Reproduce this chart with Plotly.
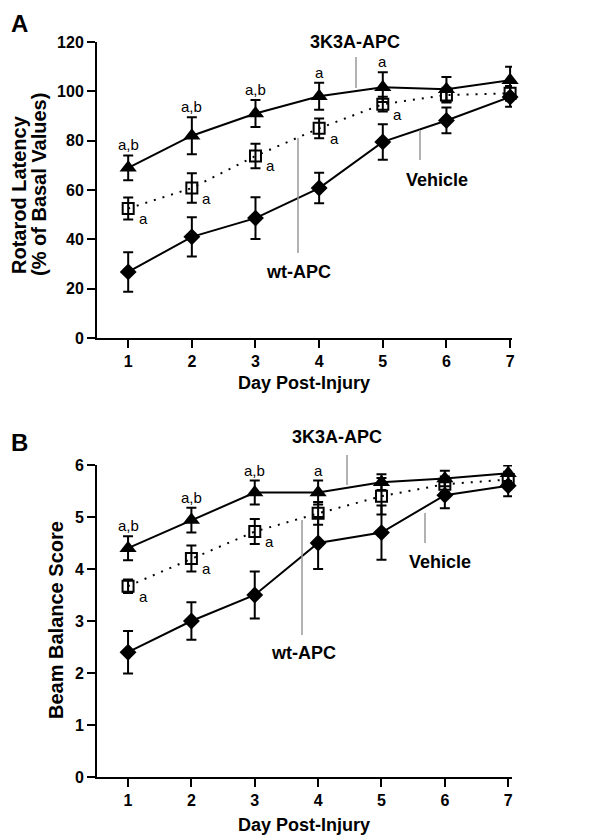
import plotly.graph_objects as go

days = [1, 2, 3, 4, 5, 6, 7]

# Panel A: Rotarod latency (% of basal values)
a_3k3a = [69, 82, 91, 98, 101.7, 100.8, 104.5]
a_3k3a_err = [5, 7.5, 5.5, 5.5, 6, 5, 5.5]
a_wt = [52.5, 60.8, 73.8, 85, 94.8, 98.5, 99.2]
a_wt_err = [4.5, 6, 5, 4, 3, 3, 3]
a_veh = [26.8, 41, 48.6, 60.8, 79.5, 88.2, 97.7]
a_veh_err = [8, 8, 8.5, 6.2, 7.2, 5.2, 4]

# Panel B: Beam balance score
b_3k3a = [4.4, 4.94, 5.47, 5.47, 5.67, 5.74, 5.84]
b_3k3a_err = [0.23, 0.24, 0.23, 0.23, 0.15, 0.15, 0.15]
b_wt = [3.67, 4.2, 4.72, 5.07, 5.4, 5.63, 5.72]
b_wt_err = [0.13, 0.25, 0.24, 0.22, 0.35, 0.15, 0.15]
b_veh = [2.4, 3.0, 3.5, 4.5, 4.7, 5.42, 5.6]
b_veh_err = [0.41, 0.36, 0.45, 0.5, 0.52, 0.25, 0.2]

a_top_labels = ["a,b", "a,b", "a,b", "a", "a", "", ""]
a_wt_labels = ["a", "a", "a", "a", "a", "", ""]
b_top_labels = ["a,b", "a,b", "a,b", "a", "", "", ""]
b_wt_labels = ["a", "a", "a", "", "", "", ""]

# page body has an 8px margin; the figure fills the rest of the 600x839 window
OFF = 8
W, H = 600 - OFF, 839 - OFF
FONT = "Liberation Sans, Arial, Helvetica, sans-serif"

def px(x):
    return (x - OFF) / W

def py(y):
    return 1 - (y - OFF) / H

fig = go.Figure()

def add_panel(xa, ya, s3, e3, sw, ew, sv, ev):
    common = dict(xaxis=xa, yaxis=ya, showlegend=False, cliponaxis=False)
    fig.add_trace(go.Scatter(x=days, y=sv, mode="lines+markers",
                             line=dict(color="black", width=2),
                             marker=dict(symbol="diamond", size=13, color="black"),
                             error_y=dict(type="data", array=ev, color="black",
                                          thickness=2, width=5), **common))
    fig.add_trace(go.Scatter(x=days, y=sw, mode="lines+markers",
                             line=dict(color="black", width=2, dash="2px,7px"),
                             marker=dict(symbol="square-open", size=11, color="black",
                                         line=dict(width=2)),
                             error_y=dict(type="data", array=ew, color="black",
                                          thickness=2, width=5), **common))
    fig.add_trace(go.Scatter(x=days, y=s3, mode="lines+markers",
                             line=dict(color="black", width=2),
                             marker=dict(symbol="triangle-up", size=15, color="black"),
                             error_y=dict(type="data", array=e3, color="black",
                                          thickness=2, width=5), **common))

add_panel("x", "y", a_3k3a, a_3k3a_err, a_wt, a_wt_err, a_veh, a_veh_err)
add_panel("x2", "y2", b_3k3a, b_3k3a_err, b_wt, b_wt_err, b_veh, b_veh_err)

axis_common = dict(showline=True, linecolor="black", linewidth=2, ticks="outside",
                   tickwidth=2, ticklen=8, tickcolor="black", showgrid=False,
                   zeroline=False, automargin=False,
                   tickfont=dict(family=FONT, size=16, color="black", weight="bold"))

fig.update_layout(
    template="none",
    width=W, height=H, margin=dict(l=0, r=0, t=0, b=0, pad=0),
    paper_bgcolor="white", plot_bgcolor="white",
    xaxis=dict(domain=[px(97), px(512)], range=[0.51, 7.03], anchor="y",
               tickvals=days, **axis_common),
    yaxis=dict(domain=[py(338), py(42)], range=[0, 120], anchor="x",
               tickvals=[0, 20, 40, 60, 80, 100, 120], **axis_common),
    xaxis2=dict(domain=[px(97), px(512)], range=[0.51, 7.06], anchor="y2",
                tickvals=days, **axis_common),
    yaxis2=dict(domain=[py(777), py(465)], range=[0, 6], anchor="x2",
                tickvals=[0, 1, 2, 3, 4, 5, 6], **axis_common),
)

ann = []
bold18 = dict(family=FONT, size=18, color="black", weight="bold")
bold21 = dict(family=FONT, size=20, color="black", weight="bold")
reg = dict(family=FONT, size=15, color="black")

def pann(text, x, y, font, angle=0):
    ann.append(dict(x=px(x), y=py(y), xref="paper", yref="paper", text=text,
                    showarrow=False, xanchor="center", yanchor="middle",
                    textangle=angle, font=font))

# panel letters
letter = dict(family=FONT, size=24, color="black", weight="bold")
pann("A", 19, 23, letter)
pann("B", 19, 442, letter)

# axis titles
pann("Day Post-Injury", 304, 383, bold18)
pann("Day Post-Injury", 304, 825, bold18)
pann("Rotarod Latency", 19, 195, bold21, -90)
pann("(% of Basal Values)", 39, 185, bold21, -90)
pann("Beam Balance Score", 56, 620, bold21, -90)

# series labels with leader lines
labels = [
    ("3K3A-APC", 355, 42, (356, 57, 356, 88)),
    ("Vehicle", 437, 180, (420, 130, 420, 160)),
    ("wt-APC", 298, 272, (298, 138, 298, 253)),
    ("3K3A-APC", 337, 437, (347, 455, 347, 485)),
    ("Vehicle", 440, 562, (425, 513, 425, 543)),
    ("wt-APC", 303, 653, (302, 520, 302, 635)),
]
shapes = []
for text, tx, ty, (x0, y0, x1, y1) in labels:
    pann(text, tx, ty, bold18)
    shapes.append(dict(type="line", xref="paper", yref="paper", x0=px(x0), y0=py(y0),
                       x1=px(x1), y1=py(y1), line=dict(color="#999999", width=1.5)))

def sig(xr, yr, vals, errs, top, wtv, wtl):
    for d, v, e, t in zip(days, vals, errs, top):
        if t:
            ann.append(dict(x=d, y=v + e, xref=xr, yref=yr, text=t, showarrow=False,
                            xanchor="center", yanchor="bottom", yshift=0, font=reg))
    for d, v, t in zip(days, wtv, wtl):
        if t:
            ann.append(dict(x=d, y=v, xref=xr, yref=yr, text=t, showarrow=False,
                            xanchor="center", yanchor="middle",
                            xshift=15, yshift=-10, font=reg))

sig("x", "y", a_3k3a, a_3k3a_err, a_top_labels, a_wt, a_wt_labels)
sig("x2", "y2", b_3k3a, b_3k3a_err, b_top_labels, b_wt, b_wt_labels)

fig.update_layout(annotations=ann, shapes=shapes)
fig.write_html("out.html")
